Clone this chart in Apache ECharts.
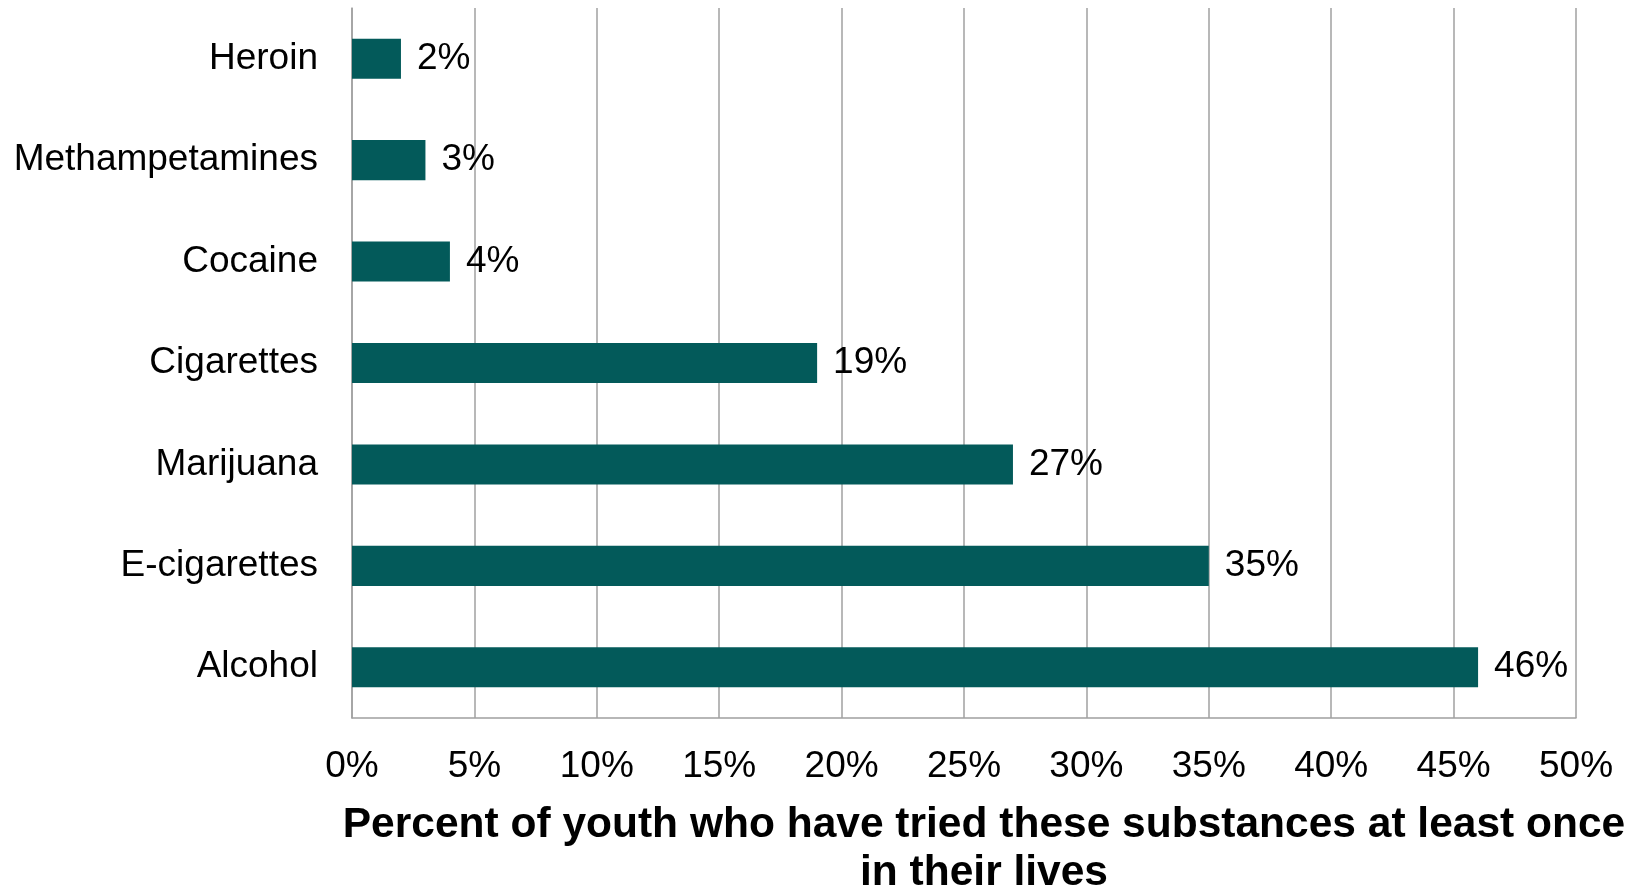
<!DOCTYPE html>
<html>
<head>
<meta charset="utf-8">
<script src="https://cdn.jsdelivr.net/npm/echarts@6/dist/echarts.min.js"></script>
<style>
html,body{margin:0;padding:0;background:#fff;}
#chart{width:1644px;height:889px;}
</style>
</head>
<body>
<div id="chart"></div>
<script>
var categories = ["Alcohol", "E-cigarettes", "Marijuana", "Cigarettes", "Cocaine", "Methampetamines", "Heroin"];
var values = [46, 35, 27, 19, 4, 3, 2];
var xTicks = [0, 5, 10, 15, 20, 25, 30, 35, 40, 45, 50];
var axisTitle = "Percent of youth who have tried these substances at least once\nin their lives";

var FONT = "'Liberation Sans', Arial, sans-serif";
var GRID = '#a0a0a0';
var chart = echarts.init(document.getElementById('chart'), null, {renderer: 'canvas'});
chart.setOption({
  animation: false,
  backgroundColor: '#ffffff',
  grid: {left: 352, right: 68, top: 8, bottom: 171, containLabel: false, outerBoundsMode: 'none'},
  xAxis: {
    type: 'value',
    min: xTicks[0],
    max: xTicks[xTicks.length - 1],
    interval: xTicks[1] - xTicks[0],
    axisLine: {show: true, lineStyle: {color: GRID, width: 1.5}},
    axisTick: {show: false},
    splitLine: {show: true, lineStyle: {color: GRID, width: 1.5}},
    axisLabel: {
      formatter: '{value}%',
      fontFamily: FONT, fontSize: 37, color: '#000', margin: 30
    },
    name: axisTitle,
    nameLocation: 'middle',
    nameGap: 83,
    nameTextStyle: {
      fontFamily: FONT, fontSize: 42.5, fontWeight: 'bold', color: '#000',
      lineHeight: 48, align: 'center', padding: [0, 0, 0, 40]
    }
  },
  yAxis: {
    type: 'category',
    data: categories,
    axisLine: {show: true, lineStyle: {color: GRID, width: 1.5}},
    axisTick: {show: false},
    splitLine: {show: false},
    axisLabel: {fontFamily: FONT, fontSize: 37, color: '#000', margin: 34, padding: [4, 0, 0, 0]}
  },
  series: [{
    type: 'bar',
    data: values,
    barWidth: '39.5%',
    itemStyle: {color: '#035a5a'},
    label: {
      show: true, position: 'right', distance: 16, padding: [4, 0, 0, 0],
      formatter: '{c}%', fontFamily: FONT, fontSize: 37, color: '#000'
    }
  }]
});
</script>
</body>
</html>
